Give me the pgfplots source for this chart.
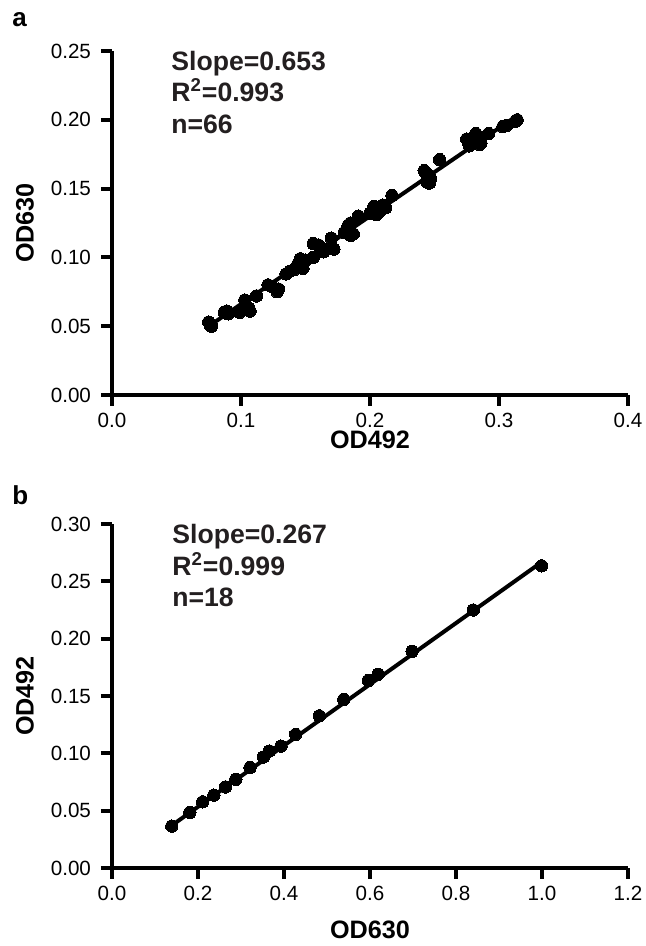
\documentclass[border=0pt]{standalone}
\usepackage{pgfplots}
\pgfplotsset{compat=1.18}
\usepackage{fontspec}
\setmainfont{Liberation Sans}
\definecolor{txt}{RGB}{35,31,32}

\pgfplotstableread{
x y
0.075 0.053
0.076 0.051
0.077 0.050
0.087 0.060
0.089 0.061
0.090 0.059
0.099 0.060
0.103 0.069
0.107 0.061
0.106 0.063
0.112 0.072
0.121 0.080
0.124 0.079
0.129 0.077
0.128 0.075
0.135 0.088
0.138 0.090
0.141 0.091
0.144 0.095
0.146 0.099
0.147 0.096
0.148 0.092
0.150 0.098
0.156 0.100
0.156 0.110
0.164 0.104
0.166 0.106
0.170 0.114
0.170 0.107
0.172 0.106
0.180 0.118
0.182 0.119
0.183 0.123
0.185 0.125
0.185 0.116
0.187 0.117
0.191 0.130
0.200 0.132
0.203 0.137
0.205 0.131
0.205 0.136
0.207 0.133
0.208 0.134
0.210 0.138
0.212 0.136
0.217 0.145
0.242 0.163
0.243 0.162
0.244 0.155
0.245 0.160
0.246 0.154
0.247 0.157
0.254 0.171
0.275 0.186
0.277 0.181
0.276 0.184
0.282 0.190
0.283 0.188
0.285 0.182
0.286 0.183
0.292 0.190
0.303 0.195
0.306 0.196
0.313 0.199
0.314 0.200
0.160 0.109
}\dataA

\pgfplotstableread{
x y
0.139 0.0365
0.181 0.0484
0.211 0.0577
0.237 0.0635
0.264 0.0707
0.288 0.0774
0.321 0.0876
0.352 0.0968
0.366 0.1020
0.393 0.1063
0.427 0.1165
0.482 0.1327
0.539 0.1470
0.596 0.1635
0.619 0.1690
0.698 0.1890
0.840 0.2250
0.999 0.2635
}\dataB

\pgfplotsset{
  myaxis/.style={
    scale only axis, width=258pt, height=172pt,
    axis lines*=left,
    axis line style={line width=2pt, -},
    every outer x axis line/.append style={line width=2pt},
    every outer y axis line/.append style={line width=2pt},
    every tick/.style={line width=2pt, black},
    major tick length=5.5pt, tick align=outside,
    minor tick num=0,
    tick label style={font=\fontsize{10.3}{12}\selectfont, color=black},
    yticklabel style={xshift=-1.5pt},
    /pgf/number format/assume math mode=true,
    xlabel style={font=\bfseries\fontsize{12.6}{14}\selectfont, at={(axis description cs:0.5,0)}, anchor=center},
    ylabel style={font=\bfseries\fontsize{12.6}{14}\selectfont, at={(axis description cs:-0.1686,0.5)}, anchor=center},
    clip=false,
    xtick pos=left, ytick pos=left,
  },
  dots/.style={only marks, mark=*, mark size=3.1pt, mark options={fill=black, draw=black, line width=0pt}},
  fit/.style={no marks, line width=2pt, black},
}

\begin{document}
\begin{tikzpicture}[x=1pt,y=1pt]
\useasboundingbox (0,0) rectangle (323,473);

\begin{axis}[myaxis, at={(56pt,275.5pt)}, anchor=south west,
  xmin=0, xmax=0.4, ymin=0, ymax=0.25,
  xtick={0,0.1,0.2,0.3,0.4}, ytick={0,0.05,0.1,0.15,0.2,0.25},
  xticklabel style={/pgf/number format/.cd, fixed, fixed zerofill, precision=1},
  yticklabel style={/pgf/number format/.cd, fixed, fixed zerofill, precision=2},
  xlabel={OD492}, ylabel={OD630},
  xlabel style={yshift=-22.5pt},
]
\addplot[dots] table[x=x,y=y] {\dataA};
\addplot[fit] coordinates {(0.075,0.050) (0.312,0.2017)};
\end{axis}

\begin{axis}[myaxis, at={(56pt,39pt)}, anchor=south west,
  xmin=0, xmax=1.2, ymin=0, ymax=0.30,
  xtick={0,0.2,0.4,0.6,0.8,1.0,1.2}, ytick={0,0.05,0.1,0.15,0.2,0.25,0.3},
  xticklabel style={/pgf/number format/.cd, fixed, fixed zerofill, precision=1},
  yticklabel style={/pgf/number format/.cd, fixed, fixed zerofill, precision=2},
  xlabel={OD630}, ylabel={OD492},
  xlabel style={yshift=-31pt},
]
\addplot[dots] table[x=x,y=y] {\dataB};
\addplot[fit] coordinates {(0.139,0.0371) (1.0,0.267)};
\end{axis}

\begin{scope}[font=\bfseries\fontsize{13.3}{15}\selectfont, color=txt]
\node[anchor=base west, inner sep=0pt] at (85.5,437.5) {Slope=0.653};
\node[anchor=base west, inner sep=0pt] at (85.5,422) {R\textsuperscript{2}=0.993};
\node[anchor=base west, inner sep=0pt] at (85.5,406) {n=66};
\node[anchor=base west, inner sep=0pt] at (86,201) {Slope=0.267};
\node[anchor=base west, inner sep=0pt] at (86,185) {R\textsuperscript{2}=0.999};
\node[anchor=base west, inner sep=0pt] at (86,169.5) {n=18};
\end{scope}
\node[anchor=base west, inner sep=0pt, font=\bfseries\fontsize{13}{15}\selectfont] at (6,459.5) {a};
\node[anchor=base west, inner sep=0pt, font=\bfseries\fontsize{13}{15}\selectfont] at (6,220.5) {b};
\end{tikzpicture}
\end{document}
